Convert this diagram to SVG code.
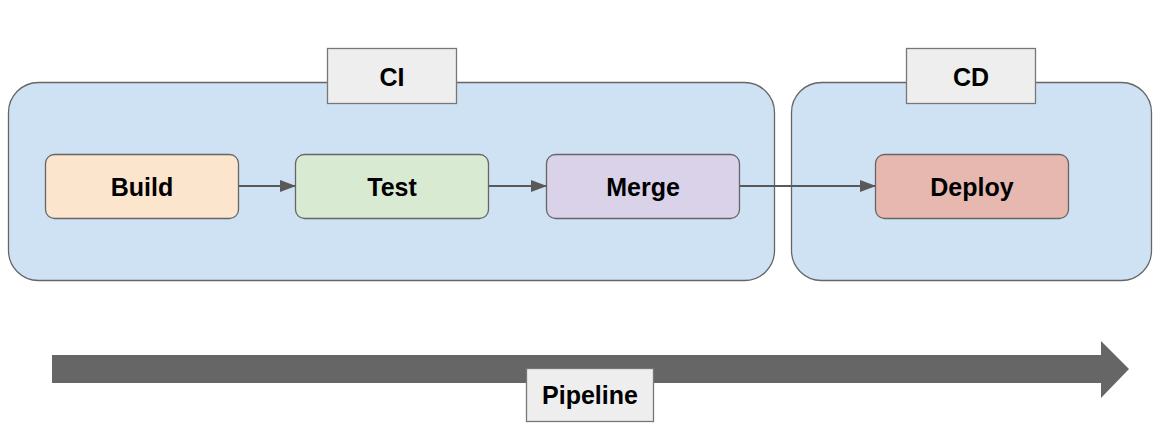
<svg xmlns="http://www.w3.org/2000/svg" width="1166" height="426" viewBox="0 0 1166 426">
<style>
.box{stroke:#666666;stroke-width:1.3}
.lbl{fill:#eeeeee;stroke:#777777;stroke-width:1.3}
text{font-family:"Liberation Sans",Arial,sans-serif;font-weight:bold;font-size:25px;fill:#000;text-anchor:middle;dominant-baseline:central}
.con{stroke:#595959;stroke-width:2;fill:none}
</style>
<defs>
<marker id="ah" markerWidth="16" markerHeight="12" refX="15" refY="6" orient="auto" markerUnits="userSpaceOnUse">
<path d="M0,0 L16,6 L0,12 Z" fill="#595959"/>
</marker>
</defs>
<g id="ci-group">
<rect class="box" x="8.5" y="82.5" width="766" height="198" rx="30" fill="#cfe2f3"/>
</g>
<g id="cd-group">
<rect class="box" x="791.5" y="82.5" width="360" height="198" rx="30" fill="#cfe2f3"/>
</g>
<g id="ci-label">
<rect class="lbl" x="327.5" y="48.5" width="129" height="55"/>
<text x="392" y="77">CI</text>
</g>
<g id="cd-label">
<rect class="lbl" x="906.5" y="48.5" width="129" height="55"/>
<text x="971" y="77">CD</text>
</g>
<g id="build">
<rect class="box" x="45.5" y="154.5" width="193" height="64" rx="9" fill="#fce5cd"/>
<text x="142" y="187">Build</text>
</g>
<g id="test">
<rect class="box" x="295.5" y="154.5" width="193" height="64" rx="9" fill="#d9ead3"/>
<text x="392" y="187">Test</text>
</g>
<g id="merge">
<rect class="box" x="546.5" y="154.5" width="193" height="64" rx="9" fill="#d9d2e9"/>
<text x="643" y="187">Merge</text>
</g>
<g id="deploy">
<rect class="box" x="875.5" y="154.5" width="193" height="64" rx="9" fill="#e6b8af"/>
<text x="972" y="187">Deploy</text>
</g>
<g id="connectors">
<line class="con" x1="239" y1="186" x2="295" y2="186" marker-end="url(#ah)"/>
<line class="con" x1="489" y1="186" x2="546" y2="186" marker-end="url(#ah)"/>
<line class="con" x1="740" y1="186" x2="875" y2="186" marker-end="url(#ah)"/>
</g>
<g id="pipeline-arrow">
<path d="M52,355 L1101,355 L1101,341 L1129,369 L1101,398 L1101,383 L52,383 Z" fill="#666666"/>
</g>
<g id="pipeline-label">
<rect class="lbl" x="526.5" y="368.5" width="127" height="53"/>
<text x="590" y="395">Pipeline</text>
</g>
</svg>
